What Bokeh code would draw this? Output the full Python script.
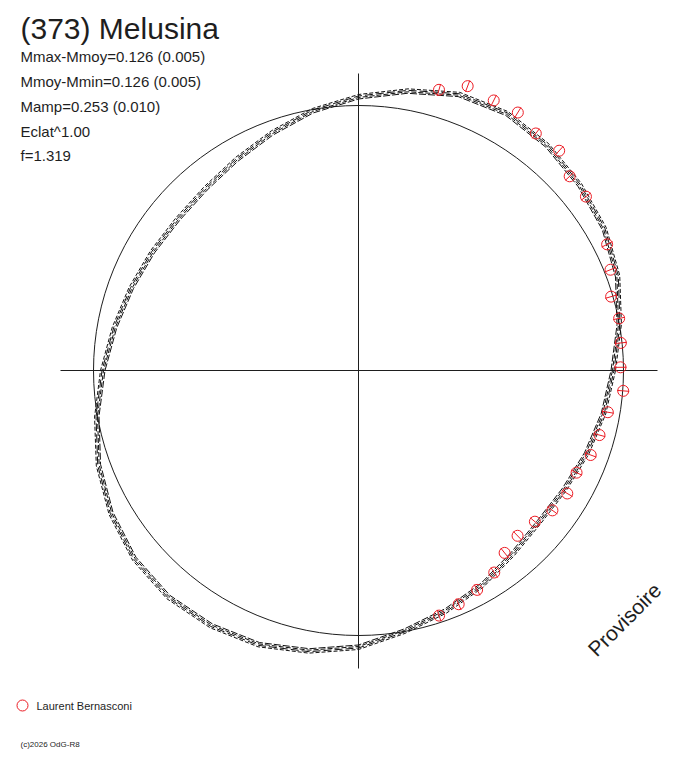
import numpy as np
from bokeh.plotting import figure
from bokeh.models import ColumnDataSource
from bokeh.core.properties import value
from bokeh.embed import file_html
from bokeh.resources import INLINE

# ---------------- data ----------------
title = "(373) Melusina"
info_lines = ["Mmax-Mmoy=0.126 (0.005)", "Mmoy-Mmin=0.126 (0.005)",
              "Mamp=0.253 (0.010)", "Eclat^1.00", "f=1.319"]
legend_label = "Laurent Bernasconi"
copyright_txt = "(c)2026 OdG-R8"
stamp = "Provisoire"

# reference (mean) circle radius, plot units
mean_radius = 265

# model curve: polar angle (deg) and radius (plot units)
model_deg = [0, 10, 20, 30, 40, 50, 60, 70, 80, 90, 100, 110, 120, 130, 140, 150, 160, 170,
             180, 190, 200, 210, 220, 230, 240, 250, 260, 270, 280, 290, 300, 310, 320, 330, 340, 350]
model_r = [255, 265, 276, 284, 289, 294, 297, 294, 284, 274, 264, 253, 244, 238, 236, 238, 242, 248,
           256, 266, 277, 286, 293, 296, 295, 292, 285, 277, 265, 256, 248, 240, 236, 238, 243, 249]
# several model solutions drawn on top of each other (radial offsets)
model_offsets = [-2.5, -1, 0.5, 2]

# observations: polar angle (deg), radius, radial error
obs_deg = [74.0, 69.0, 63.4, 58.3, 53.2, 47.6, 42.6, 37.4, 26.9, 21.8, 16.3, 11.3, 6.0, 0.7,
           -4.4, -9.5, -15.0, -20.0, -25.1, -30.5, -35.8, -40.6, -46.1, -51.3, -56.1, -61.6, -66.8, -71.8]
obs_r = [292.0, 304.6, 302.0, 303.2, 296.0, 297.6, 286.9, 286.3, 278.8, 271.4, 263.2, 265.8, 263.8, 262.0,
         265.5, 252.8, 249.5, 247.1, 240.8, 242.3, 239.1, 232.3, 229.4, 233.7, 243.4, 249.4, 254.3, 258.0]
obs_err = [6.0] * len(obs_deg)

# ---------------- figure ----------------
W, H = 672, 752
p = figure(width=W, height=H, x_range=(-358, 314), y_range=(-382, 370),
           output_backend="svg", toolbar_location=None, min_border=0,
           background_fill_color="white", border_fill_color="white")
p.axis.visible = False
p.grid.visible = False
p.outline_line_color = None

ink = "#1e1e1e"
red = "#ec1c24"

# cross through the centre
half = 298
p.segment(x0=[-half, 0], y0=[0, -half], x1=[half + 1, 0], y1=[0, half - 1],
          line_color=ink, line_width=1)

# mean circle
p.circle(x=[0], y=[0], radius=mean_radius, fill_color=None, line_color=ink, line_width=1)

# model curves
th = np.radians(np.array(model_deg + [model_deg[0]], dtype=float))
rr = np.array(model_r + [model_r[0]], dtype=float)
dashes = ["7 2", "5 2", "8 3", "4 2"]
for i, off in enumerate(model_offsets):
    r = rr + off
    p.line(r * np.cos(th), r * np.sin(th), line_color="#111111", line_width=1,
           line_dash=dashes[i % len(dashes)], line_dash_offset=i * 2)

# observations
ot = np.radians(np.array(obs_deg))
orr = np.array(obs_r)
oe = np.array(obs_err)
src = ColumnDataSource(dict(
    x=orr * np.cos(ot), y=orr * np.sin(ot),
    x0=(orr - oe) * np.cos(ot), y0=(orr - oe) * np.sin(ot),
    x1=(orr + oe) * np.cos(ot), y1=(orr + oe) * np.sin(ot)))
p.segment(x0="x0", y0="y0", x1="x1", y1="y1", source=src, line_color=red, line_width=1)
p.scatter(x="x", y="y", source=src, marker="circle", size=11, fill_color=None,
          line_color=red, line_width=1)

# texts
font = value("Liberation Sans")
p.text(x=[-338], y=[342], text=[title], text_font=font, text_font_size="30px",
       text_color=ink, text_baseline="alphabetic", text_align="left")
info_y = [314, 289, 264, 239, 215]
p.text(x=[-338] * len(info_lines), y=info_y, text=info_lines, text_font=font,
       text_font_size="15px", text_color=ink, text_baseline="alphabetic", text_align="left")

# legend
p.scatter(x=[-336], y=[-335], marker="circle", size=11, fill_color=None,
          line_color=red, line_width=1)
p.text(x=[-322], y=[-335.5], text=[legend_label], text_font=font, text_font_size="11px",
       text_color=ink, text_baseline="middle", text_align="left")

p.text(x=[-338], y=[-374], text=[copyright_txt], text_font=font, text_font_size="8px",
       text_color=ink, text_baseline="alphabetic", text_align="left")

p.text(x=[266], y=[-249], text=[stamp], text_font=font, text_font_size="21px",
       text_color=ink, text_baseline="middle", text_align="center", angle=np.pi / 4)

open("out.html", "w").write(file_html(p, INLINE))
